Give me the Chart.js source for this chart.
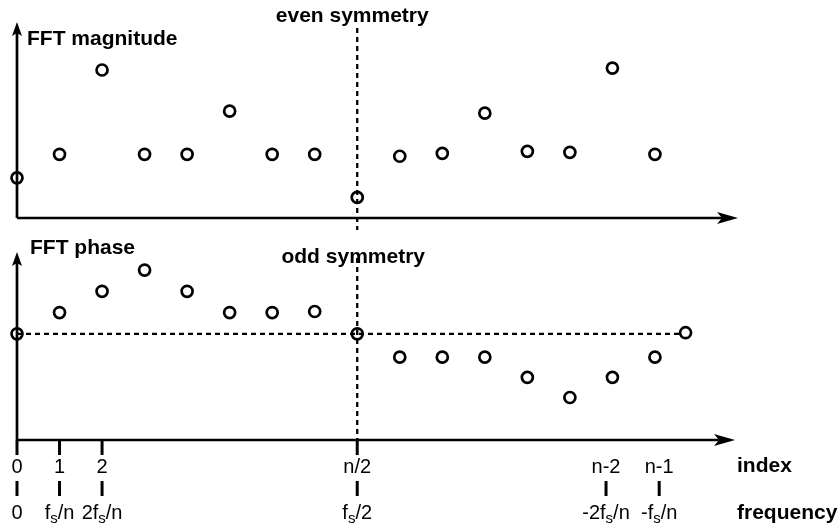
<!DOCTYPE html>
<html>
<head>
<meta charset="utf-8">
<script src="https://cdn.jsdelivr.net/npm/chart.js@4"></script>
<style>
  html, body { margin: 0; padding: 0; background: #fff; }
  #wrap { position: relative; width: 839px; height: 526px; }
  canvas { position: absolute; left: 0; top: 0; }
</style>
</head>
<body>
<div id="wrap">
  <canvas id="mag" width="839" height="526"></canvas>
  <canvas id="phase" width="839" height="526"></canvas>
</div>
<script>
// индексы отсчётов FFT (n = 16)
const magIndex = [0, 1, 2, 3, 4, 5, 6, 7, 8, 9, 10, 11, 12, 13, 14, 15]
const magValues = [2.05, 3.25, 7.55, 3.25, 3.25, 5.45, 3.25, 3.25, 1.05, 3.15, 3.3, 5.35, 3.4, 3.35, 7.65, 3.25]

const phaseIndex = [0, 1, 2, 3, 4, 5, 6, 7, 8, 9, 10, 11, 12, 13, 14, 15, 15.72]
const phaseValues = [0, 1, 2, 3, 2, 1, 1, 1.05, 0, -1.1, -1.1, -1.1, -2.05, -3, -2.05, -1.1, 0.05]

// подписи оси
const tickPos = [0, 1, 2, 8, 13.85, 15.1]
const indexLabels = ["0", "1", "2", "n/2", "n-2", "n-1"]
const freqLabels = ["0", "f_s/n", "2f_s/n", "f_s/2", "-2f_s/n", "-f_s/n"]
const halfIndex = 8

const FONT = "'Liberation Sans', Arial, sans-serif"

function arrowRight(ctx, x, y) {
  ctx.beginPath()
  ctx.moveTo(x, y)
  ctx.lineTo(x - 21, y - 6)
  ctx.lineTo(x - 16, y)
  ctx.lineTo(x - 21, y + 6)
  ctx.closePath()
  ctx.fill()
}

function arrowUp(ctx, x, y) {
  ctx.beginPath()
  ctx.moveTo(x, y)
  ctx.lineTo(x - 5, y + 14)
  ctx.lineTo(x, y + 11)
  ctx.lineTo(x + 5, y + 14)
  ctx.closePath()
  ctx.fill()
}

// подпись с нижним индексом: "f_s" -> f + s (subscript)
function drawSubText(ctx, str, cx, cy) {
  const parts = []
  for (let i = 0; i < str.length; i++) {
    if (str[i] === "_") { parts.push([str[i + 1], true]); i++ }
    else parts.push([str[i], false])
  }
  const big = "20px " + FONT, small = "15px " + FONT
  let w = 0
  parts.forEach(p => { ctx.font = p[1] ? small : big; w += ctx.measureText(p[0]).width })
  let x = cx - w / 2
  ctx.textAlign = "left"
  ctx.textBaseline = "alphabetic"
  parts.forEach(p => {
    ctx.font = p[1] ? small : big
    ctx.fillText(p[0], x, cy + 7 + (p[1] ? 4 : 0))
    x += ctx.measureText(p[0]).width
  })
}

function dashedLine(ctx, x1, y1, x2, y2) {
  ctx.save()
  ctx.setLineDash([5, 4])
  ctx.lineWidth = 2.3
  ctx.beginPath()
  ctx.moveTo(x1, y1)
  ctx.lineTo(x2, y2)
  ctx.stroke()
  ctx.restore()
}

const magAxes = {
  id: "magAxes",
  beforeDatasetsDraw(chart) {
    const { ctx, chartArea: a, scales: { x, y } } = chart
    const x0 = x.getPixelForValue(0), y0 = y.getPixelForValue(0)
    const xm = x.getPixelForValue(halfIndex)
    ctx.save()
    ctx.strokeStyle = "#000"
    ctx.fillStyle = "#000"
    ctx.lineWidth = 2.7
    ctx.beginPath()
    ctx.moveTo(x0, y0)
    ctx.lineTo(x0, a.top + 10)
    ctx.moveTo(x0, y0)
    ctx.lineTo(a.right - 14, y0)
    ctx.stroke()
    arrowUp(ctx, x0, a.top)
    arrowRight(ctx, a.right - 2, y0)
    dashedLine(ctx, xm, 28, xm, 230)
    ctx.font = "bold 21px " + FONT
    ctx.textBaseline = "middle"
    ctx.textAlign = "left"
    ctx.fillText("FFT magnitude", 27, 39)
    ctx.textAlign = "center"
    ctx.fillText("even symmetry", xm - 5, 16)
    ctx.restore()
  }
}

const phaseAxes = {
  id: "phaseAxes",
  beforeDatasetsDraw(chart) {
    const { ctx, chartArea: a, scales: { x, y } } = chart
    const x0 = x.getPixelForValue(0), yb = y.getPixelForValue(y.min)
    const yz = y.getPixelForValue(0)
    const xm = x.getPixelForValue(halfIndex)
    ctx.save()
    ctx.strokeStyle = "#000"
    ctx.fillStyle = "#000"
    ctx.lineWidth = 2.7
    ctx.beginPath()
    ctx.moveTo(x0, yb)
    ctx.lineTo(x0, a.top + 10)
    ctx.moveTo(x0, yb)
    ctx.lineTo(a.right - 17, yb)
    ctx.stroke()
    arrowUp(ctx, x0, a.top)
    arrowRight(ctx, a.right - 5, yb)
    dashedLine(ctx, x0, yz, x.getPixelForValue(phaseIndex[phaseIndex.length - 1]) - 6, yz)
    dashedLine(ctx, xm, 258, xm, yb)

    // засечки и подписи
    tickPos.forEach((v, i) => {
      const px = x.getPixelForValue(v)
      ctx.lineWidth = 3
      ctx.beginPath()
      if (i < 4) { ctx.moveTo(px, yb); ctx.lineTo(px, yb + 15) }
      ctx.moveTo(px, 481); ctx.lineTo(px, 496)
      ctx.stroke()
      ctx.font = "20px " + FONT
      ctx.textAlign = "center"
      ctx.textBaseline = "middle"
      ctx.fillText(indexLabels[i], px, 467)
      drawSubText(ctx, freqLabels[i], px, 512)
    })

    ctx.font = "bold 21px " + FONT
    ctx.textBaseline = "middle"
    ctx.textAlign = "left"
    ctx.fillText("FFT phase", 30, 248)
    ctx.fillText("index", 737, 466)
    ctx.fillText("frequency", 737, 513)
    ctx.textAlign = "center"
    ctx.fillText("odd symmetry", xm - 4, 257)
    ctx.restore()
  }
}

const pointStyle = {
  pointRadius: 5.5,
  pointHoverRadius: 5.5,
  pointBorderWidth: 2.7,
  pointBorderColor: "#000",
  pointBackgroundColor: "rgba(0,0,0,0)",
  showLine: false,
  clip: false
}

function baseOptions(padding, yMin, yMax) {
  return {
    responsive: false,
    animation: false,
    events: [],
    layout: { padding },
    plugins: { legend: { display: false }, tooltip: { enabled: false } },
    scales: {
      x: { type: "linear", min: 0, max: 17, display: false },
      y: { type: "linear", min: yMin, max: yMax, display: false }
    }
  }
}

new Chart(document.getElementById("mag"), {
  type: "scatter",
  data: {
    datasets: [{
      data: magIndex.map((v, i) => ({ x: v, y: magValues[i] })),
      ...pointStyle
    }]
  },
  options: baseOptions({ left: 17, right: 99, top: 22, bottom: 308 }, 0, 10),
  plugins: [magAxes]
})

new Chart(document.getElementById("phase"), {
  type: "scatter",
  data: {
    datasets: [{
      data: phaseIndex.map((v, i) => ({ x: v, y: phaseValues[i] })),
      ...pointStyle
    }]
  },
  options: baseOptions({ left: 17, right: 99, top: 252, bottom: 86 }, -5, 3.85),
  plugins: [phaseAxes]
})
</script>
</body>
</html>
